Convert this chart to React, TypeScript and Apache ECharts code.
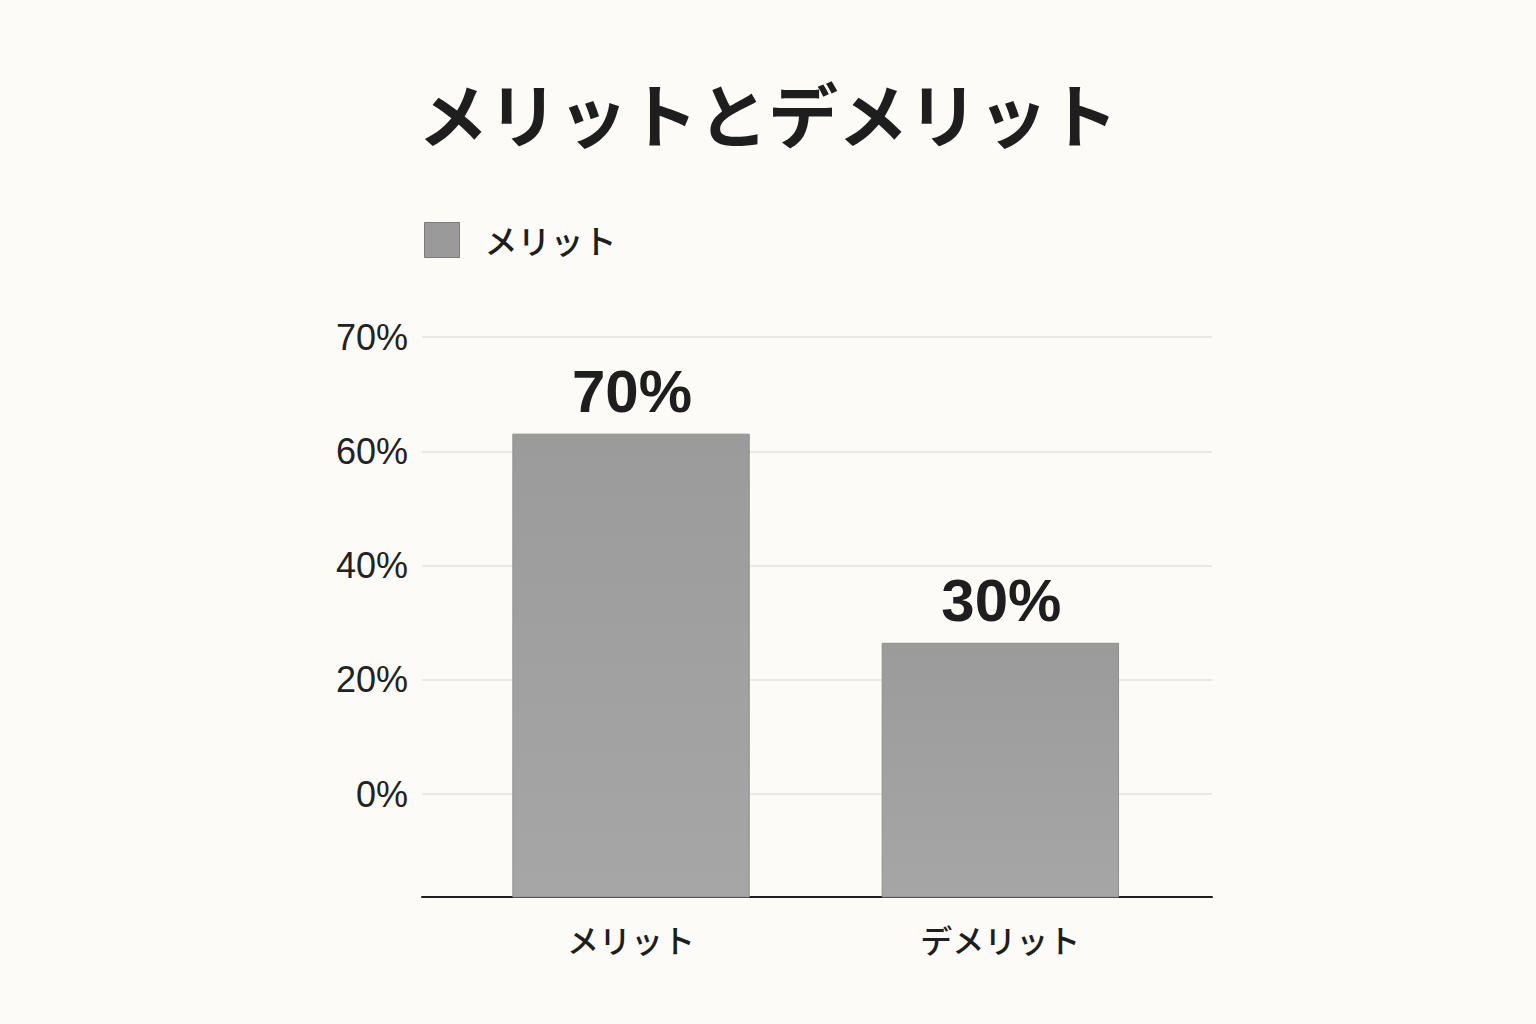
import React, { useEffect, useRef } from 'react';
import * as echarts from 'echarts';

// データ
const title = 'メリットとデメリット';
const seriesName = 'メリット';
const categories = ['メリット', 'デメリット'];
const barValues = [63, 26.4]; // 軸目盛りで読んだ棒の高さ
const barLabels = ['70%', '30%']; // 棒の上に書かれた値
const tickValues = [0, 20, 40, 60, 80];
const tickLabels = ['0%', '20%', '40%', '60%', '70%'];

const Y_MIN = -18;
const Y_MAX = 80;
const BAR_WIDTH = 0.64;

const FONT = "'Liberation Sans', 'Noto Sans CJK JP', sans-serif";
const JP_FONT = "'Noto Sans CJK JP', sans-serif";

const App: React.FC = () => {
  const chartRef = useRef<HTMLDivElement>(null);

  useEffect(() => {
    if (!chartRef.current) return;
    const chart = echarts.init(chartRef.current, undefined, { renderer: 'svg' });

    const options: echarts.EChartsOption = {
      animation: false,
      backgroundColor: '#fcfbf7',
      title: {
        text: title,
        left: 'center',
        top: 72,
        textStyle: {
          fontFamily: JP_FONT,
          fontSize: 70,
          fontWeight: 'bold',
          color: '#1e1e1e'
        }
      },
      legend: {
        left: 419,
        top: 217,
        itemWidth: 35,
        itemHeight: 35,
        data: [
          {
            name: seriesName,
            icon: 'rect',
            itemStyle: { color: '#9a9a9a', borderColor: '#7c7c7c', borderWidth: 1 }
          }
        ],
        textStyle: {
          fontFamily: JP_FONT,
          fontSize: 33,
          fontWeight: 500,
          color: '#1e1e1e',
          padding: [0, 0, 0, 20]
        }
      },
      grid: {
        left: 422,
        right: 324,
        top: 337,
        bottom: 127
      },
      xAxis: {
        type: 'value',
        min: -0.566,
        max: 1.573,
        axisLine: { show: true, onZero: false, lineStyle: { color: '#1e1e1e', width: 2 } },
        axisTick: { show: false, customValues: [0, 1] },
        splitLine: { show: false },
        axisLabel: {
          customValues: [0, 1],
          formatter: (v: number) => categories[Math.round(v)] ?? '',
          margin: 26,
          fontFamily: JP_FONT,
          fontSize: 32,
          fontWeight: 500,
          color: '#1e1e1e'
        }
      },
      yAxis: {
        type: 'value',
        min: Y_MIN,
        max: Y_MAX,
        axisLine: { show: false, onZero: false },
        axisTick: { show: false, customValues: tickValues },
        splitLine: { show: true, lineStyle: { color: '#e2e2e0', width: 1.5 } },
        axisLabel: {
          customValues: tickValues,
          formatter: (v: number) => tickLabels[tickValues.indexOf(v)] ?? '',
          margin: 14,
          fontFamily: FONT,
          fontSize: 36,
          color: '#222222'
        }
      },
      series: [
        {
          name: seriesName,
          type: 'custom',
          itemStyle: { color: '#9a9a9a' },
          data: barValues.map((v, i) => [i, v]),
          renderItem: (params: any, api: any) => {
            const x = api.value(0);
            const v = api.value(1);
            const top = api.coord([x, v]);
            const base = api.coord([x, Y_MIN]);
            const w = api.size([BAR_WIDTH, 0])[0];
            return {
              type: 'group',
              children: [
                {
                  type: 'rect',
                  shape: { x: top[0] - w / 2, y: top[1], width: w, height: base[1] - top[1] },
                  style: {
                    fill: new echarts.graphic.LinearGradient(0, 0, 0, 1, [
                      { offset: 0, color: '#9b9b9b' },
                      { offset: 1, color: '#a6a6a6' }
                    ]),
                    stroke: '#8e8e8e',
                    lineWidth: 1
                  }
                },
                {
                  type: 'text',
                  style: {
                    text: barLabels[params.dataIndex],
                    x: top[0] + 1,
                    y: top[1] - 43,
                    align: 'center',
                    verticalAlign: 'middle',
                    fontFamily: FONT,
                    fontSize: 60,
                    fontWeight: 'bold',
                    fill: '#1e1e1e'
                  }
                }
              ]
            };
          }
        }
      ]
    };

    chart.setOption(options);

    return () => {
      chart.dispose();
    };
  }, []);

  return (
    <div
      ref={chartRef}
      style={{ position: 'fixed', left: 0, top: 0, width: 1536, height: 1024 }}
    />
  );
};

export default App;
